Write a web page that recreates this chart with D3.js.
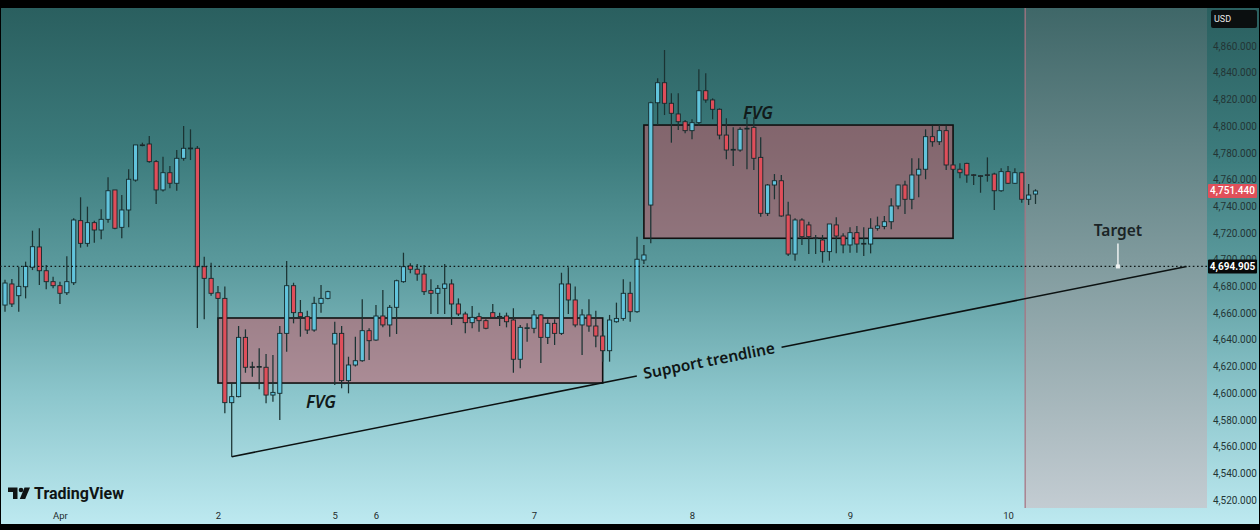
<!DOCTYPE html>
<html><head><meta charset="utf-8">
<script src="https://cdn.jsdelivr.net/npm/d3@7"></script>
<style>
body{margin:0;background:#000;overflow:hidden}
svg{display:block}
</style></head>
<body>
<svg id="chart" width="1260" height="530"></svg>
<script>
// ---- DATA (hourly candles) ----
const opens  = [4666,4681.8,4673,4679.7,4694.3,4709.5,4691.7,4683.5,4680.5,4675.2,4682.7,4729.2,4712.2,4727.7,4722.2,4730.2,4752.2,4724.2,4737.2,4759.6,4786,4786.6,4773.4,4752.2,4765.1,4757.2,4775.9,4783.4,4783.4,4694.7,4686,4675.2,4671,4592.9,4597.4,4641.8,4619.8,4620,4619.4,4598.6,4599.9,4644.8,4680.5,4660.3,4657.3,4647.3,4667.3,4671,4636.8,4644.8,4609.4,4621.1,4624.3,4646.8,4639.8,4657.8,4651.1,4664.3,4683.5,4695.3,4692.8,4689.2,4676.8,4674.8,4678.5,4681.8,4666.8,4659.3,4652.8,4657.3,4654.3,4660.3,4657.5,4657.8,4654.8,4625.4,4648.6,4648.6,4658.6,4641.8,4652.3,4644.8,4681.8,4669.8,4651.1,4658.6,4650.3,4642.8,4631.8,4653.5,4656,4674.8,4661,4699.7,4740.9,4817.5,4832.5,4817.1,4809.1,4803.3,4796.6,4802.6,4826.5,4819.6,4812.6,4793.3,4782.6,4782.1,4798.4,4799.1,4776.6,4734.7,4755.9,4759.1,4733.4,4704.2,4729.7,4726,4716.4,4714.7,4706,4726,4717.7,4711,4720.2,4712.2,4711.7,4723.5,4724.9,4728.4,4740.2,4755.9,4745.2,4763.4,4767.7,4792.1,4788.3,4796.6,4770.9,4767.7,4772.1,4763.6,4762.9,4763.6,4764.1,4751.6,4765.9,4757.2,4765.1,4745.2,4749.1];
const highs  = [4685,4685.5,4694.7,4698.5,4721.7,4723.5,4696,4687.2,4683.5,4702.5,4731,4746.7,4739.7,4729.2,4737.7,4761.7,4752.2,4748.4,4767.7,4785.9,4787.6,4792.6,4774.6,4777.1,4770.1,4782.1,4800.1,4797.6,4785.1,4702.2,4697.7,4680.3,4679.8,4607.4,4650.3,4647.8,4623.6,4633.6,4629.3,4628.6,4650.3,4699,4682.7,4669.8,4661.8,4672.2,4681,4676.8,4653.5,4650.3,4627.3,4642.3,4670.3,4648.6,4666,4677.3,4666,4685,4705.2,4697.3,4696.7,4696,4685.3,4681,4696.7,4685.3,4671,4661,4665.3,4660.3,4655.3,4666.8,4660.3,4660.3,4663.6,4651.1,4652.3,4662.3,4659.3,4655.3,4655.3,4690.2,4694.3,4679.8,4662.8,4670.3,4661.8,4646.8,4658.6,4667.8,4685.3,4683.5,4717.2,4711,4818.3,4835.8,4857,4824.6,4824.6,4804.6,4805.1,4842.5,4839.6,4820.8,4813.3,4805.9,4799.1,4799.1,4806.6,4806.6,4791.6,4756.6,4764.1,4763.4,4743.4,4731,4731,4728.4,4718.5,4718.5,4726.7,4731.7,4719.7,4724.2,4725.2,4724.2,4731,4732.2,4732.7,4745.9,4756,4759.1,4775.9,4775.9,4797.6,4800.1,4800.8,4800.1,4772.1,4772.1,4772.6,4764.1,4763.4,4776.6,4765.1,4768.4,4770.1,4768.4,4765.9,4756.6,4752.7];
const lows   = [4661,4664.5,4661,4671,4692.2,4681,4677.8,4678.5,4666.8,4673.5,4681,4709,4709.7,4712.7,4715.2,4727.7,4722.7,4716,4724.2,4758.4,4784.9,4772.6,4741.7,4751,4753.4,4751.6,4774.1,4774.6,4648.8,4655.3,4673,4656,4584.9,4552.4,4596.9,4615.3,4612.3,4602.9,4592.4,4593.6,4579.9,4631,4652.3,4642.3,4644.3,4646,4660.3,4670.3,4606.1,4603.6,4599.9,4620,4623.6,4624.8,4639.3,4649.3,4642.3,4644.3,4682.7,4689.8,4684.2,4673.5,4659.3,4659.3,4659.3,4651.1,4657.8,4644.8,4648.6,4646,4647.8,4656,4650.3,4649.3,4615.3,4618.6,4638.5,4644.8,4622.6,4636.8,4636.1,4643.6,4659.3,4649.3,4628.6,4646,4634.4,4623.6,4623.6,4652.8,4654.3,4653.5,4660.3,4696.7,4712.2,4800.8,4808.3,4787.6,4797.1,4794.6,4790.1,4800.1,4817.5,4805.1,4790.1,4775.1,4770.1,4780.8,4767.7,4767.1,4732.2,4732.7,4745.2,4732.2,4702.7,4699.2,4711,4704.2,4704.2,4697.7,4699.2,4704.7,4704.7,4705.2,4705.2,4702.7,4704.7,4721.7,4722.7,4722.7,4737.7,4734.2,4737.7,4746.7,4760.2,4784.6,4785.9,4767.1,4767.1,4760.9,4757.6,4755.9,4750.1,4758.4,4737.2,4750.9,4756.6,4756.6,4742.6,4740.9,4741.7];
const closes = [4682.5,4666.8,4680,4695,4709.7,4691.7,4683.5,4680.5,4674.8,4683.5,4729.7,4712.2,4727.7,4722.2,4730.2,4751.6,4723.5,4737.2,4760.2,4785.9,4785.5,4773.4,4752.2,4765.1,4757.2,4775.9,4783.4,4783.6,4694.7,4686,4674.8,4671,4592.9,4597.4,4641.8,4619.4,4619.6,4619.6,4598.6,4600.6,4644.8,4680.5,4660.3,4657.3,4647.3,4667.3,4671,4676,4644.8,4609.4,4621.1,4624.3,4646.8,4639.3,4657.8,4651.1,4664.3,4684.2,4694.7,4692.8,4689.2,4676,4674.8,4678.5,4681.8,4666.8,4659.3,4652.8,4656.8,4654.3,4648.6,4656.8,4657.3,4653.5,4625.4,4649.3,4649,4658.6,4641.8,4652.3,4644.8,4681.8,4669.8,4651.1,4658.6,4650.3,4642.8,4631.8,4654.8,4656,4674.8,4661,4700.3,4703.5,4817.5,4832.5,4817.1,4809.6,4803.3,4796.6,4802.6,4826.5,4819.6,4812.6,4793.3,4782.1,4782.4,4797.6,4798.1,4775.9,4734.7,4755.9,4759.1,4732.7,4704.2,4729.7,4717.2,4717.2,4716,4706,4726.7,4717.7,4711,4720.2,4711.7,4712,4723.5,4725.2,4728.4,4740.2,4755.9,4745.2,4763.4,4767.7,4792.1,4788.3,4796.6,4770.9,4767.7,4765.1,4763.4,4763.2,4762.6,4763.2,4751.6,4765.9,4757.2,4765.1,4745.2,4748.4,4751.44];

const dateTickIdx    = [8, 31, 48, 54, 77, 100, 123, 146];
const dateTickLabels = ["Apr", "2", "5", "6", "7", "8", "9", "10"];
const priceTicks     = d3.range(4520, 4861, 20);

const fvgStart  = [31, 93];
const fvgEnd    = [87, 138];
const fvgTop    = [4656.3, 4800.8];
const fvgBottom = [4607.6, 4716.0];
const fvgLabelIdx   = [46, 109.6];
const fvgLabelPrice = [4593.5, 4810];

const trendIdx   = [33, 172];
const trendPrice = [4552.4, 4694.9];

const targetPrice = 4694.905;
const targetIdx = 162;
const lastPrice = 4751.44;
const futureStartIdx = 148.5;

// ---- LAYOUT ----
const W = 1260, H = 530;
const plotRight = 1207, topY = 8, botY = 524, axisBottomY = 508;
const x = d3.scaleLinear().domain([0, 150]).range([5, 5 + 150 * 6.87]);
const y = d3.scaleLinear().domain([4520, 4860]).range([500, 46]);

const svg = d3.select("#chart");
const defs = svg.append("defs");
const bg = defs.append("linearGradient").attr("id", "bg").attr("x1", 0).attr("y1", 0).attr("x2", 0).attr("y2", 1);
[[0, "#2a5f5f"], [0.28, "#3c7b7c"], [0.5, "#5b9a9d"], [0.75, "#8cc6cc"], [1, "#bde9f0"]]
  .forEach(([o, c]) => bg.append("stop").attr("offset", o).attr("stop-color", c));
const gr = defs.append("linearGradient").attr("id", "gray").attr("x1", 0).attr("y1", 0).attr("x2", 0).attr("y2", 1);
[[0, "#3f6768"], [0.5, "#7f9a9d"], [1, "#c3ccd2"]]
  .forEach(([o, c]) => gr.append("stop").attr("offset", o).attr("stop-color", c));
defs.append("clipPath").attr("id", "plotclip").append("rect")
  .attr("x", 0).attr("y", topY).attr("width", plotRight).attr("height", axisBottomY - topY);

svg.append("rect").attr("width", W).attr("height", H).attr("fill", "#000");
svg.append("rect").attr("x", 1).attr("y", topY).attr("width", W - 2).attr("height", botY - topY).attr("fill", "url(#bg)");

const plot = svg.append("g").attr("clip-path", "url(#plotclip)");

// future shaded zone
const fx = x(futureStartIdx);
plot.append("rect").attr("x", fx).attr("y", topY).attr("width", plotRight - fx).attr("height", axisBottomY - topY)
  .attr("fill", "url(#gray)");
plot.append("line").attr("x1", fx).attr("x2", fx).attr("y1", topY).attr("y2", axisBottomY)
  .attr("stroke", "#a87583").attr("stroke-width", 1.5).attr("opacity", 0.85);

// FVG boxes
fvgStart.forEach((s, i) => {
  plot.append("rect")
    .attr("x", x(s)).attr("y", y(fvgTop[i]))
    .attr("width", x(fvgEnd[i]) - x(s)).attr("height", y(fvgBottom[i]) - y(fvgTop[i]))
    .attr("fill", "rgba(205,85,100,0.5)").attr("stroke", "#111").attr("stroke-width", 1.6);
});

// candles
const idx = d3.range(opens.length);
const upCol = "#62c4dc", dnCol = "#df4e5a", edge = "#152a2c";
plot.append("g").selectAll("line").data(idx).join("line")
  .attr("x1", i => x(i)).attr("x2", i => x(i))
  .attr("y1", i => y(highs[i])).attr("y2", i => y(lows[i]))
  .attr("stroke", "#1b3333").attr("stroke-width", 1.25);
plot.append("g").selectAll("rect").data(idx).join("rect")
  .attr("x", i => x(i) - 2.1).attr("width", 4.2)
  .attr("y", i => y(Math.max(opens[i], closes[i])))
  .attr("height", i => Math.max(0.8, Math.abs(y(opens[i]) - y(closes[i]))))
  .attr("fill", i => closes[i] >= opens[i] ? upCol : dnCol)
  .attr("stroke", edge).attr("stroke-width", 0.9);

// dotted target line
plot.append("line").attr("x1", 0).attr("x2", plotRight)
  .attr("y1", y(targetPrice)).attr("y2", y(targetPrice))
  .attr("stroke", "#101818").attr("stroke-width", 1.3).attr("stroke-dasharray", "1.6,2.6");

// trendline with gap for label
const p1 = [x(trendIdx[0]), y(trendPrice[0])], p2 = [x(trendIdx[1]), y(trendPrice[1])];
const ang = Math.atan2(p2[1] - p1[1], p2[0] - p1[0]);
const mid = [(p1[0] + p2[0]) / 2, (p1[1] + p2[1]) / 2];
const tl = plot.append("text").text("Support trendline")
  .attr("font-family", "'Noto Sans', 'Open Sans', sans-serif").attr("font-weight", 600).attr("font-size", 15.5)
  .attr("fill", "#101616").attr("text-anchor", "middle").attr("dominant-baseline", "central")
  .attr("transform", `translate(${mid[0]},${mid[1]}) rotate(${ang * 180 / Math.PI}) translate(0,-1.5)`);
const half = tl.node().getComputedTextLength() / 2 + 7;
const cosA = Math.cos(ang), sinA = Math.sin(ang);
plot.append("line").attr("x1", p1[0]).attr("y1", p1[1]).attr("x2", mid[0] - half * cosA).attr("y2", mid[1] - half * sinA)
  .attr("stroke", "#0c1212").attr("stroke-width", 1.6);
plot.append("line").attr("x1", mid[0] + half * cosA).attr("y1", mid[1] + half * sinA).attr("x2", p2[0]).attr("y2", p2[1])
  .attr("stroke", "#0c1212").attr("stroke-width", 1.6);

// FVG labels
fvgLabelIdx.forEach((li, i) => {
  plot.append("text").text("FVG").attr("x", x(li)).attr("y", y(fvgLabelPrice[i]))
    .attr("font-family", "'Noto Sans', 'Open Sans', sans-serif").attr("font-style", "italic").attr("font-weight", 600)
    .attr("font-size", 17).attr("fill", "#111a1a").attr("text-anchor", "middle").attr("dominant-baseline", "central");
});

// Target label + marker
const tX = x(targetIdx), tY = y(targetPrice);
plot.append("text").text("Target").attr("x", tX).attr("y", tY - 36)
  .attr("font-family", "'Noto Sans', 'Open Sans', sans-serif").attr("font-weight", 600).attr("font-size", 15.5)
  .attr("fill", "#1a2426").attr("text-anchor", "middle").attr("dominant-baseline", "central");
plot.append("line").attr("x1", tX).attr("x2", tX).attr("y1", tY - 23).attr("y2", tY)
  .attr("stroke", "#eef2f2").attr("stroke-width", 1.5);
plot.append("rect").attr("x", tX - 2).attr("y", tY - 2).attr("width", 4).attr("height", 4).attr("fill", "#eef2f2");

// price axis
const yAxis = d3.axisRight(y).tickValues(priceTicks).tickSize(0).tickPadding(0).tickFormat(d3.format(",.3f"));
const ya = svg.append("g").attr("transform", `translate(${plotRight + 6},0)`).call(yAxis);
ya.select(".domain").remove();
ya.selectAll("text").attr("font-family", "Roboto, 'Liberation Sans', sans-serif").attr("font-size", 10).attr("fill", "#233535");

// date axis
const xAxis = d3.axisBottom(x).tickValues(dateTickIdx).tickSize(0).tickPadding(0)
  .tickFormat((d, i) => dateTickLabels[i]);
const xa = svg.append("g").attr("transform", `translate(0,512)`).call(xAxis);
xa.select(".domain").remove();
xa.selectAll("text").attr("font-family", "Roboto, 'Liberation Sans', sans-serif").attr("font-size", 9.5).attr("fill", "#1e2a2c");

// USD box
svg.append("rect").attr("x", 1211).attr("y", 10).attr("width", 46).attr("height", 18).attr("rx", 2).attr("fill", "#0b0f10");
svg.append("text").text("USD").attr("x", 1214).attr("y", 19).attr("dominant-baseline", "central")
  .attr("font-family", "Roboto, sans-serif").attr("font-size", 9).attr("fill", "#e8e8e8");

// last price & target price labels
function priceTag(val, fill, bold) {
  const yy = y(val);
  svg.append("rect").attr("x", 1208).attr("y", yy - 7).attr("width", 49).attr("height", 14).attr("rx", 1).attr("fill", fill);
  svg.append("text").text(d3.format(",.3f")(val)).attr("x", 1232.5).attr("y", yy).attr("text-anchor", "middle")
    .attr("dominant-baseline", "central").attr("font-family", "Roboto, sans-serif").attr("font-size", 10)
    .attr("font-weight", bold ? 700 : 500).attr("fill", "#ffffff");
}
priceTag(lastPrice, "#e0505a", false);
priceTag(targetPrice, "#070909", true);

// TradingView logo
const logo = svg.append("g").attr("fill", "#101414");
logo.append("path").attr("d", "M8,487.5 H17.5 V499 H13 V492 H8 Z");
logo.append("circle").attr("cx", 21).attr("cy", 490).attr("r", 2.3);
logo.append("path").attr("d", "M24.5,487.5 H30 L25.2,499 H19.8 Z");
svg.append("text").text("TradingView").attr("x", 34).attr("y", 499)
  .attr("font-family", "Roboto, 'Liberation Sans', sans-serif").attr("font-weight", 700).attr("font-size", 16)
  .attr("fill", "#101414");
</script>
</body></html>
